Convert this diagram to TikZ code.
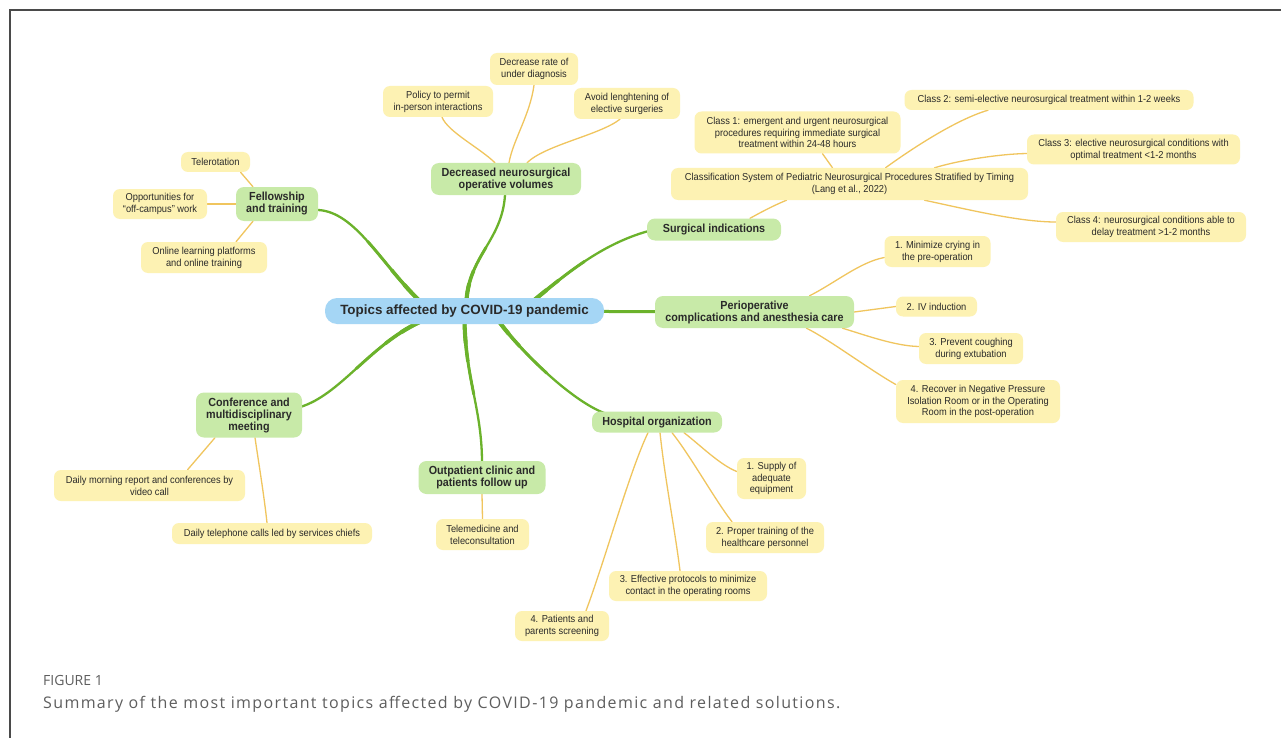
\documentclass[tikz,border=0pt]{standalone}
\usepackage{fontspec}
\setmainfont{Liberation Sans}[FakeStretch=0.92]
\newfontfamily\rootfont{Liberation Sans}
\newfontfamily\capfont{Open Sans}
\usetikzlibrary{calc}
\pgfdeclarelayer{bg}
\pgfsetlayers{bg,main}
\definecolor{leafyellow}{HTML}{FDF2B3}
\definecolor{topgreen}{HTML}{C8EAA8}
\definecolor{rootblue}{HTML}{A5D6F5}
\definecolor{branchgreen}{HTML}{6BB22B}
\definecolor{leafline}{HTML}{F0C55E}
\definecolor{txt}{HTML}{2A2A2A}
\definecolor{framegray}{HTML}{4A4A4A}
\definecolor{capgray}{HTML}{5E5E5E}
\tikzset{
  leaf/.style={fill=leafyellow, rounded corners=7pt, align=center, inner xsep=6pt, inner ysep=3pt,
    font=\fontsize{10.1}{11.8}\selectfont, text=txt},
  topic/.style={fill=topgreen, rounded corners=8pt, align=center, inner xsep=6pt, inner ysep=3pt,
    font=\bfseries\fontsize{11.7}{12}\selectfont, text=txt},
  root/.style={fill=rootblue, rounded corners=12pt, align=center, inner xsep=8pt, inner ysep=3pt,
    font=\rootfont\bfseries\fontsize{13.4}{15}\selectfont, text=txt},
  bough/.style={draw=branchgreen, line cap=round},
  twig/.style={draw=leafline, line width=1.3pt, line cap=round},
  captext/.style={anchor=base west, inner sep=0pt, text=capgray}
}
% halve a cubic (#1,#2,#3,#4) keeping the half next to #4; results in (#5a),(#5b),(#5c)
\newcommand\halfnear[5]{%
  \path ($0.125*(#1)+0.375*(#2)+0.375*(#3)+0.125*(#4)$) coordinate (#5a)
        ($0.25*(#2)+0.5*(#3)+0.25*(#4)$) coordinate (#5b)
        ($0.5*(#3)+0.5*(#4)$) coordinate (#5c);
}
% tapered main branch: #1 outer end, #2 #3 controls, #4 end under the root
\newcommand\boughpath[4]{%
  \path #1 coordinate (b0) #2 coordinate (b1) #3 coordinate (b2) #4 coordinate (b3);
  \draw[bough, line width=2.3pt] (b0) .. controls (b1) and (b2) .. (b3);
  \halfnear{b0}{b1}{b2}{b3}{r}
  \draw[bough, line width=2.9pt] (ra) .. controls (rb) and (rc) .. (b3);
  \halfnear{ra}{rb}{rc}{b3}{s}
  \draw[bough, line width=3.5pt] (sa) .. controls (sb) and (sc) .. (b3);
  \halfnear{sa}{sb}{sc}{b3}{t}
  \draw[bough, line width=4.1pt] (ta) .. controls (tb) and (tc) .. (b3);
}
\begin{document}
\begin{tikzpicture}[x=1pt,y=-1pt]
\useasboundingbox (0,0) rectangle (1281,738);

% root
\node[root, minimum width=279pt, minimum height=26pt] (c) at (464.5,311) {Topics affected by COVID-19 pandemic};

% topics
\node[topic, minimum width=82pt, minimum height=34pt] (fell) at (277,204) {Fellowship\\and training};
\node[topic, minimum width=150pt, minimum height=32pt] (decr) at (506,179) {Decreased neurosurgical\\operative volumes};
\node[topic, minimum width=134pt, minimum height=22pt] (surg) at (714,229.5) {Surgical indications};
\node[topic, minimum width=199pt, minimum height=32pt] (peri) at (754.5,312) {Perioperative\\complications and anesthesia care};
\node[topic, minimum width=130pt, minimum height=21pt] (hosp) at (657,422) {Hospital organization};
\node[topic, minimum width=127pt, minimum height=33pt] (outp) at (482,477.5) {Outpatient clinic and\\patients follow up};
\node[topic, minimum width=106pt, minimum height=45pt] (conf) at (249,415) {Conference and\\multidisciplinary\\meeting};

% leaves: fellowship
\node[leaf, minimum width=69pt, minimum height=20pt] (tele) at (215.5,162) {Telerotation};
\node[leaf, minimum width=94pt, minimum height=30pt] (opp) at (160,204) {Opportunities for\\“off-campus” work};
\node[leaf, minimum width=126pt, minimum height=31pt] (onl) at (204,257.5) {Online learning platforms\\and online training};

% leaves: decreased volumes
\node[leaf, minimum width=110pt, minimum height=31pt] (pol) at (438,101.5) {Policy to permit\\in-person interactions};
\node[leaf, minimum width=88pt, minimum height=32pt] (dec) at (534,69) {Decrease rate of\\under diagnosis};
\node[leaf, minimum width=106pt, minimum height=31pt] (avo) at (627,103.5) {Avoid lenghtening of\\elective surgeries};

% leaves: surgical indications
\node[leaf, minimum width=357pt, minimum height=32pt] (cls) at (849.5,184) {Classification System of Pediatric Neurosurgical Procedures Stratified by Timing\\(Lang et al., 2022)};
\node[leaf, minimum width=206pt, minimum height=42pt] (c1) at (797.5,132.5) {Class 1: emergent and urgent neurosurgical\\procedures requiring immediate surgical\\treatment within 24-48 hours};
\node[leaf, minimum width=289pt, minimum height=20pt] (c2) at (1049,100) {Class 2: semi-elective neurosurgical treatment within 1-2 weeks};
\node[leaf, minimum width=213pt, minimum height=30pt] (c3) at (1133.5,149.5) {Class 3: elective neurosurgical conditions with\\optimal treatment <1-2 months};
\node[leaf, minimum width=190pt, minimum height=30pt] (c4) at (1151,227) {Class 4: neurosurgical conditions able to\\delay treatment >1-2 months};

% leaves: perioperative
\node[leaf, minimum width=106pt, minimum height=31pt] (m1) at (937.5,251.5) {1. Minimize crying in\\the pre-operation};
\node[leaf, minimum width=81pt, minimum height=20pt] (m2) at (936.5,306.5) {2. IV induction};
\node[leaf, minimum width=104pt, minimum height=31pt] (m3) at (971,348.5) {3. Prevent coughing\\during extubation};
\node[leaf, minimum width=164pt, minimum height=43pt] (m4) at (978,401.5) {4. Recover in Negative Pressure\\Isolation Room or in the Operating\\Room in the post-operation};

% leaves: hospital
\node[leaf, minimum width=69pt, minimum height=41pt] (h1) at (771.5,478.5) {1. Supply of\\adequate\\equipment};
\node[leaf, minimum width=118pt, minimum height=31pt] (h2) at (765,537.5) {2. Proper training of the\\healthcare personnel};
\node[leaf, minimum width=158pt, minimum height=30pt] (h3) at (688,586) {3. Effective protocols to minimize\\contact in the operating rooms};
\node[leaf, minimum width=94pt, minimum height=30pt] (h4) at (562,626) {4. Patients and\\parents screening};

% leaves: outpatient
\node[leaf, minimum width=93pt, minimum height=31pt] (tm) at (482.5,534.5) {Telemedicine and\\teleconsultation};

% leaves: conference
\node[leaf, minimum width=191pt, minimum height=31pt] (dm) at (149.5,485.5) {Daily morning report and conferences by\\video call};
\node[leaf, minimum width=200pt, minimum height=21pt] (dt) at (272,533.5) {Daily telephone calls led by services chiefs};

% caption
\node[captext, font=\capfont\fontsize{14}{16}\selectfont] (fig) at (43,685.5) {FIGURE 1};
\node[captext, font=\capfont\fontsize{16}{18}\selectfont\addfontfeature{LetterSpace=8.5}] (cap) at (43,708.5) {Summary of the most important topics affected by COVID-19 pandemic and related solutions.};

\begin{pgfonlayer}{bg}
\fill[white] (0,0) rectangle (1281,738);
\draw[framegray, line width=1.5pt] (10,738) -- (10,10) -- (1281,10);
% main branches
\boughpath{($(fell.east)+(0,6)$)}{(355,212)}{(380,262)}{($(c.north)+(-46,2)$)}
\boughpath{($(decr.south)+(-1,0)$)}{(502,240)}{(470,255)}{($(c.north)+(2,2)$)}
\boughpath{($(surg.west)+(0,2)$)}{(600,245)}{(565,275)}{($(c.north)+(70,2)$)}
\draw[bough, line width=3pt] (c.center) -- (peri.center);
\boughpath{($(hosp.north west)+(13,2)$)}{(570,400)}{(520,350)}{($(c.south)+(35,-2)$)}
\boughpath{($(outp.north)+(0,2)$)}{(482,410)}{(466,380)}{($(c.south)+(0,-2)$)}
\boughpath{($(conf.east)+(-2,-8)$)}{(340,395)}{(370,345)}{($(c.south)+(-45,-2)$)}

% fellowship twigs
\draw[twig] ($(tele.south)+(25,0)$) -- ($(fell.north)+(-24,0)$);
\draw[twig] (opp.east) -- (fell.west);
\draw[twig] ($(onl.north)+(32,0)$) -- ($(fell.south)+(-24,0)$);

% decreased twigs
\draw[twig] ($(pol.south)+(4,0)$) .. controls (448,132) and (480,148) .. ($(decr.north)+(-11,0)$);
\draw[twig] (dec.south) .. controls (530,115) and (513,140) .. ($(decr.north)+(3,0)$);
\draw[twig] ($(avo.south)+(-7,0)$) .. controls (600,135) and (545,145) .. ($(decr.north)+(21,0)$);

% surgical twigs
\draw[twig] ($(surg.north)+(36,0)$) .. controls (765,210) and (775,205) .. ($(cls.south)+(-63,0)$);
\draw[twig] ($(c1.south)+(25,0)$) -- ($(cls.north)+(-17,0)$);
\draw[twig] ($(cls.north)+(36,0)$) .. controls (910,150) and (955,120) .. ($(c2.south)+(-61,0)$);
\draw[twig] ($(cls.north)+(85,0)$) .. controls (960,160) and (1000,154) .. ($(c3.west)+(0,4)$);
\draw[twig] ($(cls.south)+(75,0)$) .. controls (970,210) and (1020,222) .. ($(c4.west)+(0,-5)$);

% perioperative twigs
\draw[twig] ($(peri.north)+(55,0)$) .. controls (835,283) and (860,262) .. ($(m1.west)+(0,6)$);
\draw[twig] (peri.east) -- (m2.west);
\draw[twig] ($(peri.south)+(88,0)$) .. controls (865,335) and (895,346) .. ($(m3.west)+(0,-2)$);
\draw[twig] ($(peri.south)+(52,0)$) .. controls (830,340) and (870,370) .. ($(m4.west)+(0,-17)$);

% hospital twigs
\draw[twig] ($(hosp.south)+(27,0)$) .. controls (700,445) and (720,465) .. ($(h1.west)+(0,-7)$);
\draw[twig] ($(hosp.south)+(15,0)$) .. controls (690,455) and (715,500) .. ($(h2.north)+(-33,0)$);
\draw[twig] ($(hosp.south)+(3,0)$) .. controls (665,480) and (675,530) .. ($(h3.north)+(-8,0)$);
\draw[twig] ($(hosp.south)+(-9,0)$) .. controls (630,470) and (605,560) .. ($(h4.north)+(24,0)$);

% outpatient twig
\draw[twig] (outp.south) -- (tm.north);

% conference twigs
\draw[twig] ($(conf.south)+(-34,0)$) -- ($(dm.north)+(38,0)$);
\draw[twig] ($(conf.south)+(6,0)$) .. controls (259,465) and (264,495) .. ($(dt.north)+(-5,0)$);
\end{pgfonlayer}
\end{tikzpicture}
\end{document}
